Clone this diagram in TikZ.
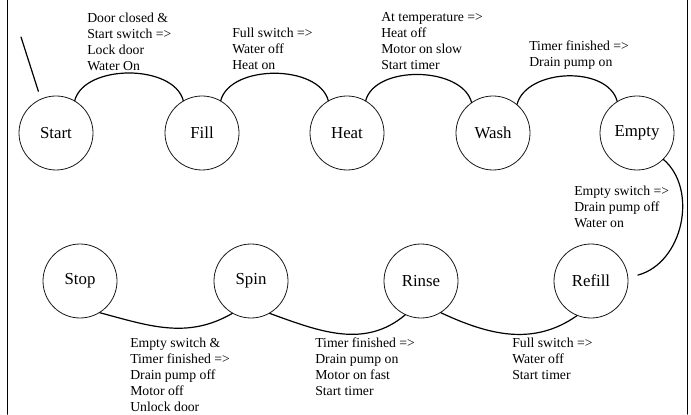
\documentclass[tikz,border=0pt]{standalone}
\usepackage{fontspec}
\setmainfont{Liberation Serif}
\usepackage{tikz}
\usetikzlibrary{arrows}
\definecolor{qqqqqq}{rgb}{0.1,0.1,0.1}
\tikzset{
  state/.style={draw=qqqqqq,circle,line width=0.6pt,minimum size=55.5pt,inner sep=0pt,font=\fontsize{12.6}{14}\selectfont},
  lbl/.style={anchor=north west,align=left,inner sep=0pt,font=\fontsize{10.3}{12}\selectfont},
  edge/.style={line width=0.9pt}
}
\begin{document}
\begin{tikzpicture}[line cap=round,line join=round,x=0.75pt,y=0.75pt]
\useasboundingbox (0,0) rectangle (691,414);
\draw [line width=1.2pt] (7.5,0) -- (7.5,414);
\draw [line width=0.8pt] (687.5,0) -- (687.5,414);
% states
\node [state] (start) at (56,281) {Start};
\node [state] (fill) at (202,281) {Fill};
\node [state] (heat) at (347,281) {Heat};
\node [state] (wash) at (493,281) {Wash};
\node [state] (empty) at (637,281) {Empty};
\node [state] (stop) at (80,133) {Stop};
\node [state] (spin) at (251,133) {Spin};
\node [state] (rinse) at (421,133) {Rinse};
\node [state] (refill) at (591,133) {Refill};
% transitions
\coordinate (init) at (21,377);
\draw [edge,shorten >=6pt] (init) -- (start.114);
\draw [edge] (start.60) to[out=75,in=105,looseness=0.9] (fill.120);
\draw [edge] (fill.60) to[out=75,in=105,looseness=0.9] (heat.120);
\draw [edge] (heat.60) to[out=75,in=105,looseness=0.9] (wash.125);
\draw [edge] (wash.50) to[out=75,in=105,looseness=0.95] (empty.122);
\draw [edge,shorten >=7.5pt] (empty.-45) .. controls +(35,-30) and +(55,15) .. (refill.5);
\draw [edge] (refill.-112) to[out=-145,in=-25] (rinse.-58);
\draw [edge] (rinse.-115) to[out=-140,in=-20] (spin.-60);
\draw [edge] (spin.-120) to[out=-150,in=-15] (stop.-58);
% labels
\node [lbl] (lstart) at (87,401) {Door closed \&\\Start switch =>\\Lock door\\Water On};
\node [lbl] (lfill) at (232,386) {Full switch =>\\Water off\\Heat on};
\node [lbl] (lheat) at (381,402) {At temperature =>\\Heat off\\Motor on slow\\Start timer};
\node [lbl] (lwash) at (529,373) {Timer finished =>\\Drain pump on};
\node [lbl] (lempty) at (574,228) {Empty switch =>\\Drain pump off\\Water on};
\node [lbl] (lrefill) at (512,76) {Full switch =>\\Water off\\Start timer};
\node [lbl] (lrinse) at (315,76) {Timer finished =>\\Drain pump on\\Motor on fast\\Start timer};
\node [lbl] (lspin) at (130,76) {Empty switch \&\\Timer finished =>\\Drain pump off\\Motor off\\Unlock door};
\end{tikzpicture}
\end{document}
